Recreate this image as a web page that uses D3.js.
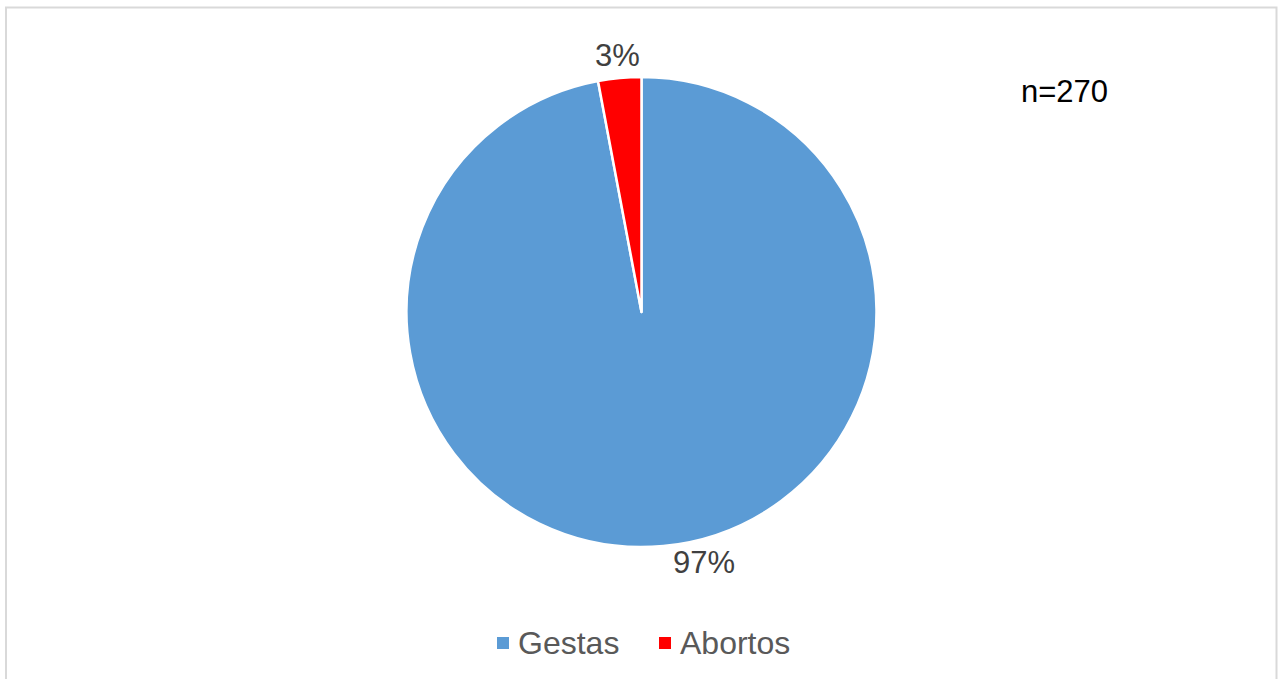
<!DOCTYPE html>
<html>
<head>
<meta charset="utf-8">
<script src="https://cdn.jsdelivr.net/npm/d3@7"></script>
<style>
  body { margin: 0; background: #fff; }
  svg { display: block; font-family: Arial, "Liberation Sans", sans-serif; }
</style>
</head>
<body>
<script>
// data
var categories = ["Gestas", "Abortos"];
var values = [262, 8];
var colors = ["#5b9bd5", "#ff0000"];
var sampleLabel = "n=270";

var width = 1281, height = 679;
var cx = 641.5, cy = 312, radius = 235;

var svg = d3.select("body").append("svg")
    .attr("width", width)
    .attr("height", height);

// chart border
svg.append("rect")
    .attr("x", 6).attr("y", 7.5)
    .attr("width", 1270.5).attr("height", 700)
    .attr("fill", "none")
    .attr("stroke", "#d9d9d9")
    .attr("stroke-width", 2);

var total = d3.sum(values);
var pie = d3.pie().sort(null).value(function(d) { return d; });
var arcs = pie(values);

var arc = d3.arc().innerRadius(0).outerRadius(radius);
var g = svg.append("g").attr("transform", "translate(" + cx + "," + cy + ")");

g.selectAll("path")
    .data(arcs)
  .enter().append("path")
    .attr("d", arc)
    .attr("fill", function(d, i) { return colors[i]; })
    .attr("stroke", "#fff")
    .attr("stroke-width", 2.5)
    .attr("stroke-linejoin", "round");

// data labels (excel best fit pushes the big one a bit sideways)
var labelShift = [-8.7, 0];
var labelR = 258;
g.selectAll("text.lbl")
    .data(arcs)
  .enter().append("text")
    .attr("class", "lbl")
    .attr("transform", function(d, i) {
      var a = (d.startAngle + d.endAngle) / 2 + labelShift[i] * Math.PI / 180;
      return "translate(" + (Math.sin(a) * labelR) + "," + (-Math.cos(a) * labelR) + ")";
    })
    .attr("text-anchor", "middle")
    .attr("dy", "0.36em")
    .attr("font-size", 31)
    .attr("fill", "#404040")
    .text(function(d) { return Math.round(d.value / total * 100) + "%"; });

// n label
svg.append("text")
    .attr("x", 1021).attr("y", 102)
    .attr("font-size", 31)
    .attr("fill", "#000")
    .text(sampleLabel);

// legend
var legX = d3.scalePoint().domain(categories).range([497, 659]);
var leg = svg.selectAll("g.leg")
    .data(categories)
  .enter().append("g")
    .attr("class", "leg")
    .attr("transform", function(d) { return "translate(" + legX(d) + ",637)"; });
leg.append("rect")
    .attr("width", 12).attr("height", 12)
    .attr("fill", function(d, i) { return colors[i]; });
leg.append("text")
    .attr("x", 21).attr("y", 17)
    .attr("font-size", 32)
    .attr("fill", "#595959")
    .text(function(d) { return d; });
</script>
</body>
</html>
